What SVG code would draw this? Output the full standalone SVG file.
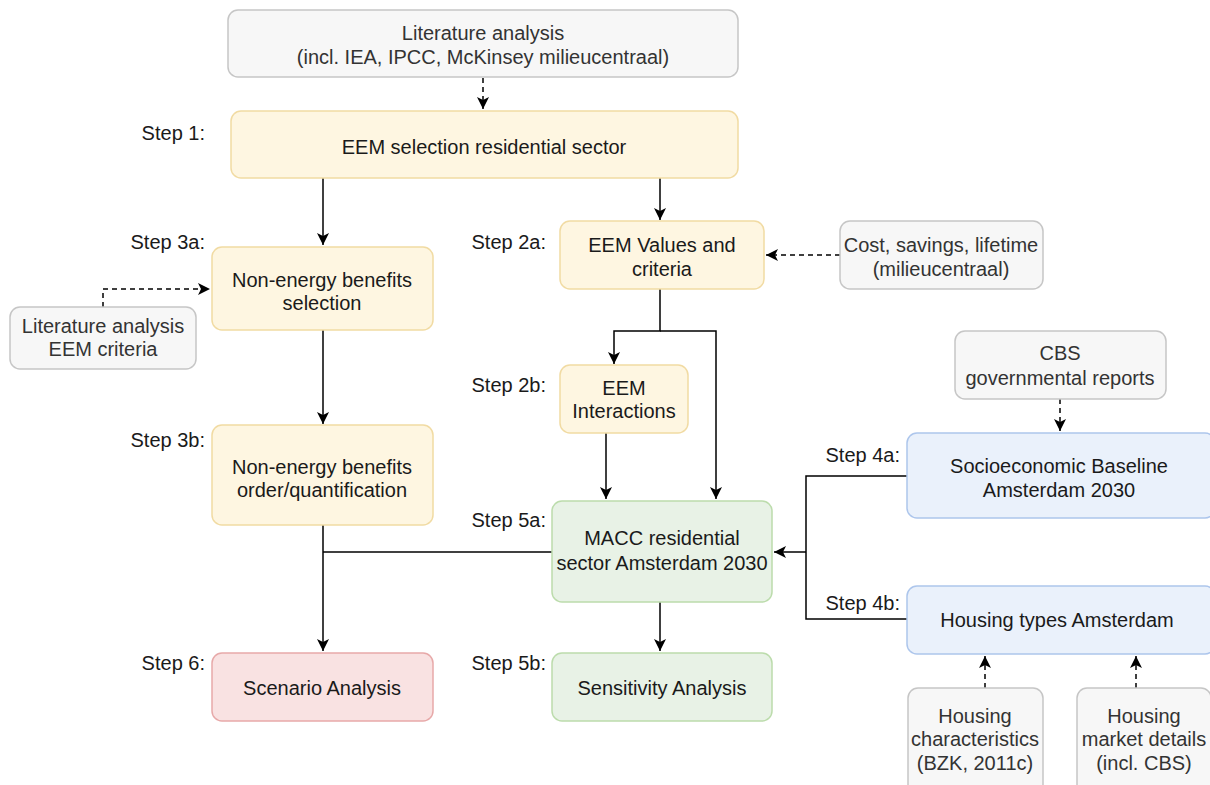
<svg xmlns="http://www.w3.org/2000/svg" width="1210" height="785" viewBox="0 0 1210 785">
<defs>
<marker id="arr" markerUnits="userSpaceOnUse" markerWidth="14" markerHeight="14" viewBox="0 0 14 14" refX="13" refY="7" orient="auto">
<path d="M1,1 L13,7 L1,13 L4,7 Z" fill="#000"/>
</marker>
<style>
text{font-family:"Liberation Sans",Arial,Helvetica,sans-serif;font-size:20px;fill:#1a1a1a;text-anchor:middle}
.lbl{text-anchor:end}
.src text{fill:#333}
.grey{fill:#f7f7f7;stroke:#c6c6c6;stroke-width:1.5}
.yel{fill:#fef6e1;stroke:#f1dba3;stroke-width:1.5}
.grn{fill:#e8f2e6;stroke:#bcdcac;stroke-width:1.5}
.blu{fill:#eaf1fb;stroke:#adc6ec;stroke-width:1.5}
.red{fill:#f9e2e2;stroke:#e7a9a9;stroke-width:1.5}
.c{fill:none;stroke:#000;stroke-width:1.5}
.d{fill:none;stroke:#000;stroke-width:1.5;stroke-dasharray:5 4}
</style>
</defs>

<g id="connectors">
<path class="d" d="M483,78 V109" marker-end="url(#arr)"/>
<path class="c" d="M323,178 V245" marker-end="url(#arr)"/>
<path class="c" d="M660,178 V220" marker-end="url(#arr)"/>
<path class="d" d="M103,307 V289 H210" marker-end="url(#arr)"/>
<path class="d" d="M840,255 H766" marker-end="url(#arr)"/>
<path class="c" d="M323,330 V424" marker-end="url(#arr)"/>
<path class="c" d="M660,289 V331 H614 V364" marker-end="url(#arr)"/>
<path class="c" d="M660,331 H716 V499" marker-end="url(#arr)"/>
<path class="c" d="M606,433 V499" marker-end="url(#arr)"/>
<path class="c" d="M323,525 V651" marker-end="url(#arr)"/>
<path class="c" d="M552,552 H323"/>
<path class="c" d="M660,602 V651" marker-end="url(#arr)"/>
<path class="d" d="M1060,399 V431" marker-end="url(#arr)"/>
<path class="c" d="M907,476 H806 V619 H907"/>
<path class="c" d="M806,552 H774" marker-end="url(#arr)"/>
<path class="d" d="M985,688 V656" marker-end="url(#arr)"/>
<path class="d" d="M1136,688 V656" marker-end="url(#arr)"/>
</g>

<g id="lit-top" class="src">
<rect class="grey" x="228" y="10" width="510" height="67" rx="10"/>
<text x="483" y="40">Literature analysis</text>
<text x="483" y="64">(incl. IEA, IPCC, McKinsey milieucentraal)</text>
</g>

<g id="step1">
<text class="lbl" x="205" y="140">Step 1:</text>
<rect class="yel" x="231" y="111" width="507" height="67" rx="10"/>
<text x="484" y="154">EEM selection residential sector</text>
</g>

<g id="step3a">
<text class="lbl" x="205" y="249">Step 3a:</text>
<rect class="yel" x="212" y="247" width="221" height="83" rx="10"/>
<text x="322" y="287">Non-energy benefits</text>
<text x="322" y="310">selection</text>
</g>

<g id="lit-eem" class="src">
<rect class="grey" x="10" y="307" width="186" height="62" rx="10"/>
<text x="103" y="333">Literature analysis</text>
<text x="103" y="356">EEM criteria</text>
</g>

<g id="step3b">
<text class="lbl" x="205" y="447">Step 3b:</text>
<rect class="yel" x="212" y="425" width="221" height="100" rx="10"/>
<text x="322" y="474">Non-energy benefits</text>
<text x="322" y="497">order/quantification</text>
</g>

<g id="step2a">
<text class="lbl" x="546" y="249">Step 2a:</text>
<rect class="yel" x="560" y="221" width="204" height="68" rx="10"/>
<text x="662" y="252">EEM Values and</text>
<text x="662" y="276">criteria</text>
</g>

<g id="cost" class="src">
<rect class="grey" x="840" y="221" width="203" height="68" rx="10"/>
<text x="941" y="252">Cost, savings, lifetime</text>
<text x="941" y="276">(milieucentraal)</text>
</g>

<g id="step2b">
<text class="lbl" x="546" y="392">Step 2b:</text>
<rect class="yel" x="560" y="365" width="128" height="68" rx="10"/>
<text x="624" y="395">EEM</text>
<text x="624" y="418">Interactions</text>
</g>

<g id="step5a">
<text class="lbl" x="546" y="527">Step 5a:</text>
<rect class="grn" x="552" y="501" width="220" height="101" rx="10"/>
<text x="662" y="545">MACC residential</text>
<text x="662" y="570">sector Amsterdam 2030</text>
</g>

<g id="step5b">
<text class="lbl" x="546" y="670">Step 5b:</text>
<rect class="grn" x="552" y="653" width="220" height="68" rx="10"/>
<text x="662" y="695">Sensitivity Analysis</text>
</g>

<g id="step6">
<text class="lbl" x="205" y="670">Step 6:</text>
<rect class="red" x="212" y="653" width="221" height="68" rx="10"/>
<text x="322" y="695">Scenario Analysis</text>
</g>

<g id="cbs" class="src">
<rect class="grey" x="955" y="331" width="211" height="68" rx="10"/>
<text x="1060" y="360">CBS</text>
<text x="1060" y="385">governmental reports</text>
</g>

<g id="step4a">
<text class="lbl" x="900" y="462">Step 4a:</text>
<rect class="blu" x="907" y="433" width="308" height="85" rx="10"/>
<text x="1059" y="473">Socioeconomic Baseline</text>
<text x="1059" y="497">Amsterdam 2030</text>
</g>

<g id="step4b">
<text class="lbl" x="900" y="610">Step 4b:</text>
<rect class="blu" x="907" y="586" width="308" height="68" rx="10"/>
<text x="1057" y="627">Housing types Amsterdam</text>
</g>

<g id="housing-char" class="src">
<rect class="grey" x="908" y="688" width="135" height="110" rx="10"/>
<text x="975" y="723">Housing</text>
<text x="975" y="746">characteristics</text>
<text x="975" y="770">(BZK, 2011c)</text>
</g>

<g id="housing-market" class="src">
<rect class="grey" x="1077" y="688" width="134" height="110" rx="10"/>
<text x="1144" y="723">Housing</text>
<text x="1144" y="746">market details</text>
<text x="1144" y="770">(incl. CBS)</text>
</g>
</svg>
